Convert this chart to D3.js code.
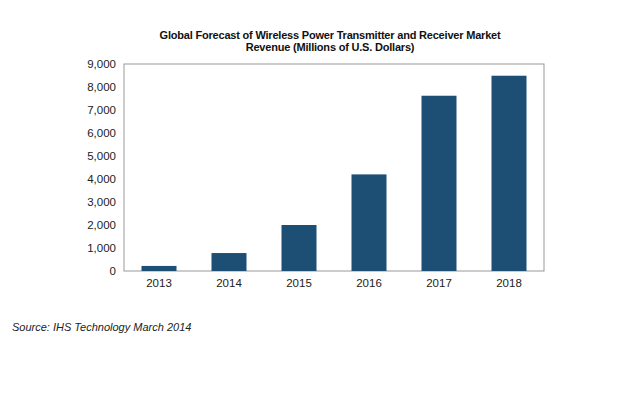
<!DOCTYPE html>
<html>
<head>
<meta charset="utf-8">
<script src="https://cdn.jsdelivr.net/npm/d3@7"></script>
<style>
  body { margin: 0; background: #fff; }
  svg { display: block; font-family: Arial, "Liberation Sans", sans-serif; }
  .axis text { font-size: 11.5px; fill: #222; }
  .axis path, .axis line { display: none; }
</style>
</head>
<body>
<div id="chart"></div>
<script>
const years = ["2013", "2014", "2015", "2016", "2017", "2018"];
const revenue = [220, 780, 2000, 4200, 7620, 8490];
const yTicks = [0, 1000, 2000, 3000, 4000, 5000, 6000, 7000, 8000, 9000];
const titleLines = [
  "Global Forecast of Wireless Power Transmitter and Receiver Market",
  "Revenue  (Millions of U.S. Dollars)",
];
const sourceNote = "Source: IHS Technology March 2014";

const width = 630;
const height = 399;
const margin = { top: 64, right: 86, bottom: 128, left: 124 };
const plotWidth = width - margin.left - margin.right;
const plotHeight = height - margin.top - margin.bottom;

const svg = d3
  .select("#chart")
  .append("svg")
  .attr("width", width)
  .attr("height", height);

svg
  .append("g")
  .selectAll("text")
  .data(titleLines)
  .join("text")
  .attr("x", 330)
  .attr("y", (d, i) => 39 + i * 12)
  .attr("text-anchor", "middle")
  .attr("font-size", "11px")
  .attr("font-weight", "bold")
  .attr("letter-spacing", "-0.2px")
  .attr("fill", "#111")
  .text((d) => d);

const g = svg
  .append("g")
  .attr("transform", `translate(${margin.left},${margin.top})`);

const x = d3
  .scaleBand()
  .domain(years)
  .range([0, plotWidth])
  .paddingInner(0.5)
  .paddingOuter(0.25);
const y = d3.scaleLinear().domain([0, 9000]).range([plotHeight, 0]);

g.append("rect")
  .attr("x", 0)
  .attr("y", 0)
  .attr("width", plotWidth)
  .attr("height", plotHeight)
  .attr("fill", "none")
  .attr("stroke", "#999")
  .attr("stroke-width", 1);

g.selectAll(".bar")
  .data(years)
  .join("rect")
  .attr("class", "bar")
  .attr("x", (d) => x(d))
  .attr("y", (d, i) => y(revenue[i]))
  .attr("width", x.bandwidth())
  .attr("height", (d, i) => plotHeight - y(revenue[i]))
  .attr("fill", "#1d4e74");

g.append("g")
  .attr("class", "axis")
  .call(
    d3
      .axisLeft(y)
      .tickValues(yTicks)
      .tickSize(0)
      .tickPadding(8)
      .tickFormat(d3.format(",")),
  );

g.append("g")
  .attr("class", "axis")
  .attr("transform", `translate(0,${plotHeight})`)
  .call(d3.axisBottom(x).tickSize(0).tickPadding(8));

svg
  .append("text")
  .attr("x", 12)
  .attr("y", 331)
  .attr("font-size", "11px")
  .attr("font-style", "italic")
  .attr("fill", "#222")
  .text(sourceNote);
</script>
</body>
</html>
